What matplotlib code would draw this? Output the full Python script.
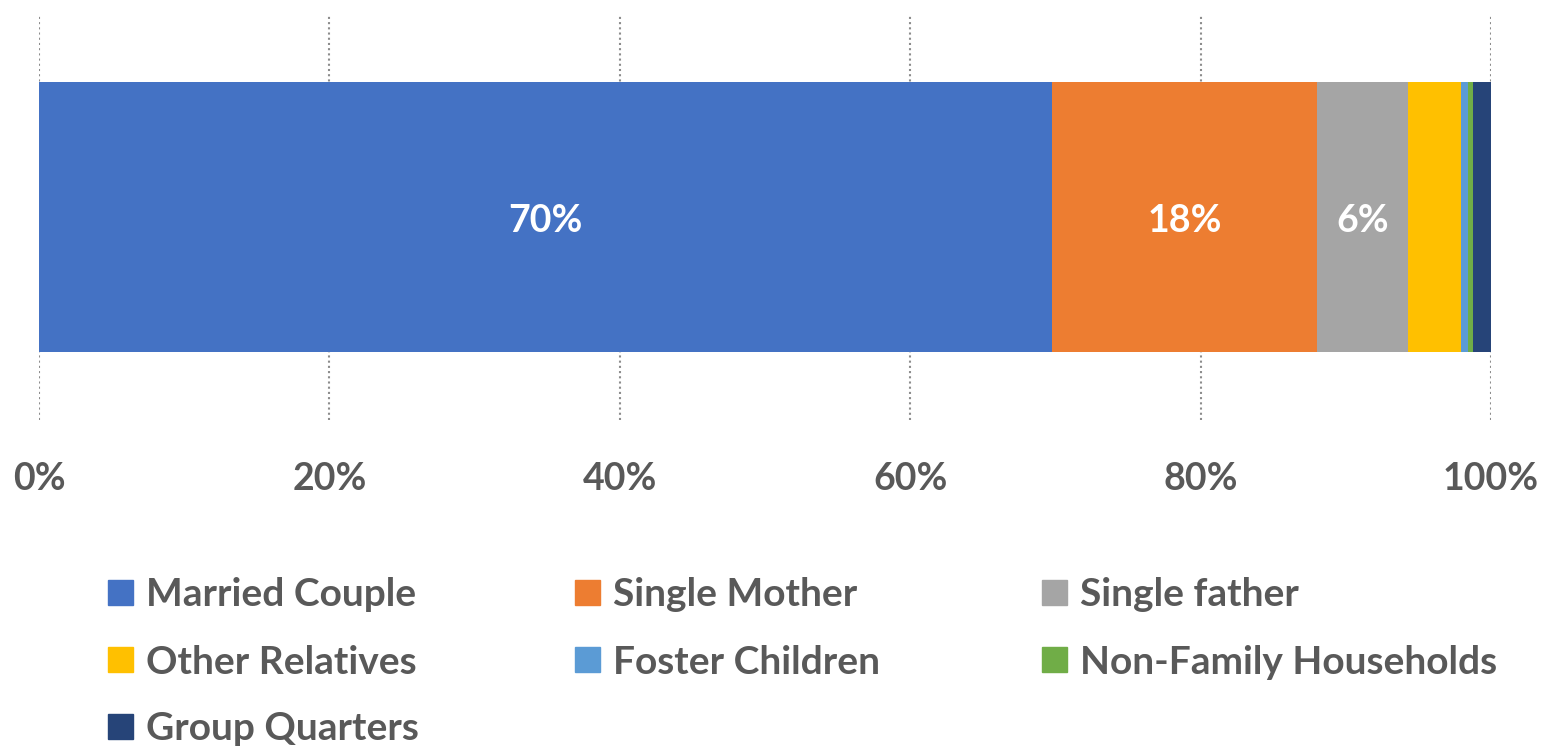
import matplotlib.pyplot as plt
from matplotlib.patches import Rectangle

categories = ['Married Couple', 'Single Mother', 'Single father', 'Other Relatives',
              'Foster Children', 'Non-Family Households', 'Group Quarters']
shares = [69.8, 18.2, 6.3, 3.6, 0.55, 0.28, 1.27]
labels = ['70%', '18%', '6%', '', '', '', '']
colors = ['#4472C4', '#ED7D31', '#A5A5A5', '#FFC000', '#5B9BD5', '#70AD47', '#264478']
ticks = [0, 20, 40, 60, 80, 100]

plt.rcParams['font.family'] = ['Lato', 'DejaVu Sans']
grey = '#595959'
fs = 27

fig = plt.figure(figsize=(15.45, 7.47), dpi=100)
ax = fig.add_axes([39 / 1545, 1 - 420 / 747, (1491 - 39) / 1545, 406 / 747])

left = 0
for val, lab, col in zip(shares, labels, colors):
    ax.barh(0, val, left=left, height=0.667, color=col, zorder=3)
    if lab:
        ax.text(left + val / 2, -0.01, lab, ha='center', va='center', color='white',
                fontsize=fs, fontweight='bold', zorder=4)
    left += val

ax.set_xlim(0, 100)
ax.set_ylim(-0.5, 0.5)
ax.set_xticks(ticks)
ax.set_xticklabels([f'{t}%' for t in ticks], fontsize=fs, fontweight='bold', color=grey)
ax.set_yticks([])
ax.tick_params(axis='x', length=0, pad=30)
ax.grid(axis='x', linestyle=(0, (1, 1.5)), color='#8c8c8c', linewidth=1.5, zorder=0)
for s in ax.spines.values():
    s.set_visible(False)

# legend, 3 columns
col_x = [108, 575, 1042]
row_y = [593, 660, 727]
for i, (name, col) in enumerate(zip(categories, colors)):
    x = col_x[i % 3]
    y = row_y[i // 3]
    fig.patches.append(Rectangle((x / 1545, 1 - (y + 12) / 747), 25 / 1545, 25 / 747,
                                 transform=fig.transFigure, color=col, figure=fig))
    fig.text((x + 38) / 1545, 1 - (y + 2) / 747, name, ha='left', va='center',
             fontsize=28, fontweight='bold', color=grey)

fig.savefig('out.png', dpi=100)
